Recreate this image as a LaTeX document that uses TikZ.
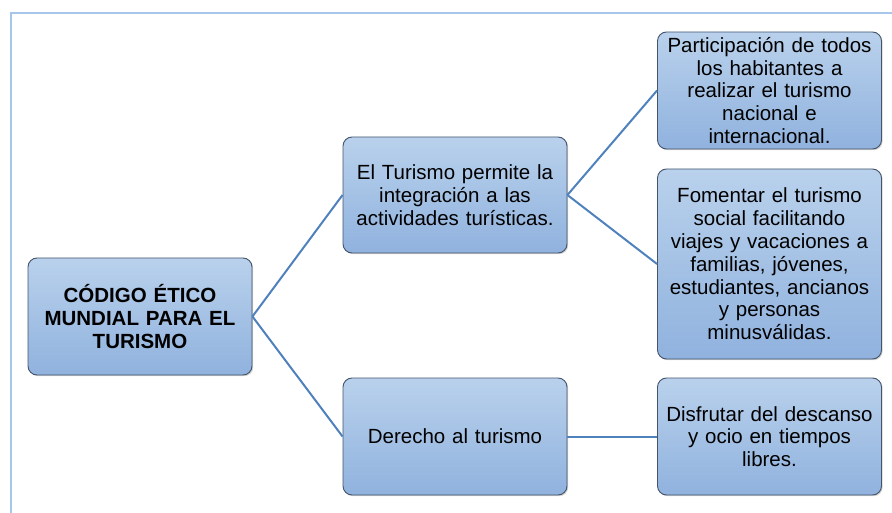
\documentclass[tikz,border=0pt]{standalone}
\usepackage{fontspec}
\setmainfont{Liberation Sans}
\usetikzlibrary{shadows}
\definecolor{boxtop}{HTML}{B9D1EC}
\definecolor{boxbot}{HTML}{90B2DE}
\definecolor{boxline}{HTML}{44546A}
\definecolor{connc}{HTML}{4F81BD}
\definecolor{framec}{HTML}{A8C6EA}
\begin{document}
\begin{tikzpicture}[x=1pt,y=-1pt,
 box/.style={draw=boxline, line width=0.9pt, rounded corners=9pt, top color=boxtop, bottom color=boxbot,
   align=center, font=\fontsize{20.5}{22.8}\selectfont, inner sep=0pt, minimum width=224pt, text width=220pt,
   drop shadow={shadow xshift=1.2pt, shadow yshift=-1.2pt, opacity=0.35}},
 connl/.style={draw=connc, line width=2pt}]
\useasboundingbox (0,0) rectangle (892,513);
\draw[framec, line width=2pt] (892,13) -- (11,13) -- (11,513);

\node[box, minimum height=117pt] (root) at (140,316.5) {\textbf{CÓDIGO ÉTICO}\\\textbf{MUNDIAL PARA EL}\\\textbf{TURISMO}};
\node[box, minimum height=116pt] (m1) at (455,195) {El Turismo permite la\\integración a las\\actividades turísticas.};
\node[box, minimum height=117pt] (m2) at (455,436.5) {Derecho al turismo};
\node[box, minimum height=117pt] (r1) at (769.5,90.5) {Participación de todos\\los habitantes a\\realizar el turismo\\nacional e\\internacional.};
\node[box, minimum height=190pt] (r2) at (769.5,264) {Fomentar el turismo\\social facilitando\\viajes y vacaciones a\\familias, jóvenes,\\estudiantes, ancianos\\y personas\\minusválidas.};
\node[box, minimum height=117pt] (r3) at (769.5,436.5) {Disfrutar del descanso\\y ocio en tiempos\\libres.};

\draw[connl] (root.east) -- (m1.west);
\draw[connl] (root.east) -- (m2.west);
\draw[connl] (m1.east) -- (r1.west);
\draw[connl] (m1.east) -- (r2.west);
\draw[connl] (m2.east) -- (r3.west);
\end{tikzpicture}
\end{document}
